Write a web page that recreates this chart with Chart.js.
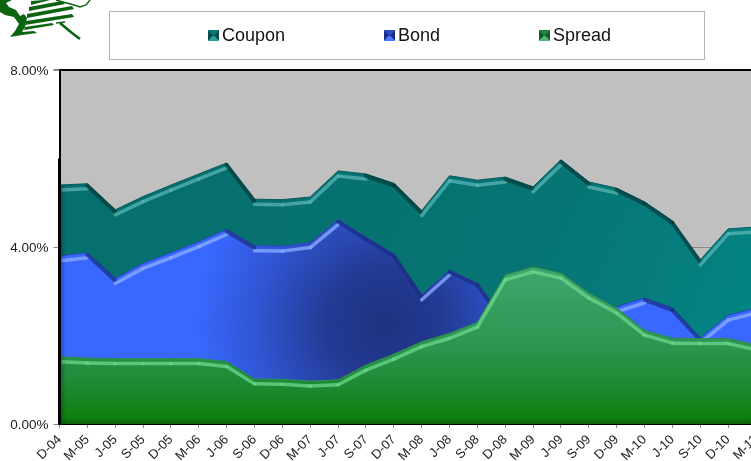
<!DOCTYPE html>
<html>
<head>
<meta charset="utf-8">
<script src="https://cdn.jsdelivr.net/npm/chart.js@4"></script>
<style>
    html, body { margin: 0; padding: 0; background: #fff; overflow: hidden; width: 751px; height: 461px; }
    #wrap { position: relative; width: 751px; height: 461px; overflow: hidden; font-family: "Liberation Sans", sans-serif; }
    #chart { position: absolute; left: 0; top: 0; }
    #logo { position: absolute; left: 0; top: 0; }
    #legend { position: absolute; left: 109px; top: 11px; width: 594px; height: 47px; border: 1px solid #b4b4b4; }
    .item { position: absolute; top: 12px; font-size: 18px; line-height: 22px; color: #111; white-space: nowrap; }
    .swatch { display: inline-block; width: 11px; height: 11px; margin-right: 3px; }
</style>
</head>
<body>
<div id="wrap">
    <canvas id="chart" width="800" height="461"></canvas>
    <svg id="logo" width="105" height="48" viewBox="0 0 105 48">
        <path fill="#0b6410" d="M0 0 L12 0 L6 3 L9 7 L16 10 L20 16 L24 14 L27 18 L25 27 L22 32 L34 31 L37 33 L22 35 L10 37 L15 31 L19 24 L14 17 L5 15 L0 12 Z"/>
        <path fill="#0b6410" d="M31 1 L44 0 L50 0 L31 5 Z M29 7 L62 1 L65 4 L29 11 Z M27 14 L72 6 L74 9 L27 18 Z M26 21 L72 14 L74 17 L25 25 Z M25 27 L52 23 L54 25 L24 30 Z"/>
        <path fill="none" stroke="#0b6410" stroke-width="1.4" d="M56 0 L74 5 L80 7 L86 5 L90 0"/>
        <path fill="none" stroke="#0b6410" stroke-width="2.6" d="M60 23 L72 33 L80 39"/>
        <path fill="none" stroke="#0b6410" stroke-width="1.4" d="M56 23 L65 22"/>
    </svg>
    <div id="legend"></div>
</div>
<script>
// Chart data
const categories = ['D-04','M-05','J-05','S-05','D-05','M-06','J-06','S-06','D-06','M-07','J-07','S-07','D-07',
    'M-08','J-08','S-08','D-08','M-09','J-09','S-09','D-09','M-10','J-10','S-10','D-10','M-11'];
const couponValues = [5.40,5.43,4.84,5.14,5.40,5.65,5.90,5.08,5.07,5.13,5.72,5.65,5.44,
    4.82,5.61,5.51,5.58,5.36,5.97,5.47,5.33,5.02,4.59,3.71,4.41,4.45];
const bondValues = [3.80,3.87,3.29,3.63,3.87,4.12,4.40,4.03,4.02,4.10,4.62,4.22,3.84,
    2.92,3.48,3.18,2.30,2.20,2.30,2.45,2.65,2.85,2.62,1.94,2.46,2.62];
const spreadValues = [1.52,1.49,1.48,1.48,1.48,1.48,1.41,1.02,1.01,0.97,1.00,1.33,1.58,
    1.86,2.05,2.30,3.37,3.55,3.41,2.96,2.62,2.12,1.94,1.93,1.93,1.79];
const yTicks = [0, 4, 8];

// Gradient fills for the three areas
function couponFill(context) {
    const g = context.chart.ctx.createLinearGradient(200, 180, 720, 400);
    g.addColorStop(0, '#06706e');
    g.addColorStop(0.6, '#067573');
    g.addColorStop(1, '#048484');
    return g;
}
function bondFill(context) {
    const g = context.chart.ctx.createRadialGradient(385, 325, 5, 385, 325, 210);
    g.addColorStop(0, '#1f3382');
    g.addColorStop(0.25, '#233a92');
    g.addColorStop(0.6, '#3055d2');
    g.addColorStop(0.9, '#3868ff');
    return g;
}
function spreadFill(context) {
    const g = context.chart.ctx.createLinearGradient(0, 268, 0, 424);
    g.addColorStop(0, '#3fa76e');
    g.addColorStop(0.5, '#2c9650');
    g.addColorStop(0.75, '#1c8a32');
    g.addColorStop(0.96, '#0d800f');
    g.addColorStop(1, '#0a600c');
    return g;
}

// Bevel colours per series; segments steeper than "steep" get the dark band
const bevels = [
    { light: 'rgba(90,180,180,0.75)', dark: 'rgba(3,60,60,0.7)', steep: 0.3 },
    { light: 'rgba(135,170,255,0.8)', dark: 'rgba(25,45,130,0.7)', steep: 0.3 },
    { light: 'rgba(110,215,140,0.75)', dark: 'rgba(30,120,60,0.7)', steep: 9 }
];

// Plot background and thick left axis part
const plotFrame = {
    id: 'plotFrame',
    beforeDraw(chart) {
        const { ctx, chartArea: a } = chart;
        ctx.save();
        ctx.fillStyle = '#c0c0c0';
        ctx.fillRect(a.left, a.top, a.right - a.left, a.bottom - a.top);
        ctx.restore();
    },
    afterDatasetsDraw(chart) {
        const { ctx, chartArea: a } = chart;
        const top = chart.getDatasetMeta(0).data[0].y;
        const g = ctx.createLinearGradient(a.left, 0, a.left + 7, 0);
        g.addColorStop(0, 'rgba(0,0,0,0.28)');
        g.addColorStop(1, 'rgba(0,0,0,0)');
        ctx.save();
        ctx.fillStyle = g;
        ctx.fillRect(a.left, top, 7, a.bottom - top);
        ctx.restore();
    },
    afterDraw(chart) {
        const { ctx, chartArea: a } = chart;
        ctx.save();
        ctx.strokeStyle = '#000';
        ctx.lineWidth = 3;
        ctx.beginPath();
        ctx.moveTo(a.left, chart.scales.y.getPixelForValue(6));
        ctx.lineTo(a.left, a.bottom + 1);
        ctx.stroke();
        ctx.restore();
    }
};

// Bevel strip under each area's top edge, following the drawn points
const bevel = {
    id: 'bevel',
    afterDatasetDraw(chart, args) {
        const { ctx, chartArea: a } = chart;
        const pts = chart.getDatasetMeta(args.index).data;
        const style = bevels[args.index];
        ctx.save();
        ctx.beginPath();
        ctx.rect(a.left + 2, a.top, a.right - a.left, a.bottom - a.top);
        ctx.clip();
        ctx.lineCap = 'round';
        for (let i = 0; i < pts.length - 1; i++) {
            const p = pts[i], q = pts[i + 1];
            const falling = (q.y - p.y) / (q.x - p.x) > style.steep;
            ctx.beginPath();
            if (falling) {
                ctx.strokeStyle = style.dark;
                ctx.lineWidth = 4;
                ctx.moveTo(p.x, p.y + 2);
                ctx.lineTo(q.x, q.y + 2);
            } else {
                ctx.strokeStyle = style.light;
                ctx.lineWidth = 3.5;
                ctx.moveTo(p.x, p.y + 5);
                ctx.lineTo(q.x, q.y + 5);
            }
            ctx.stroke();
        }
        ctx.restore();
    }
};

new Chart(document.getElementById('chart'), {
    type: 'line',
    data: {
        labels: categories,
        datasets: [
            { label: 'Coupon', data: couponValues, fill: 'origin', order: 3, backgroundColor: couponFill, borderColor: '#055a5a', borderWidth: 1, pointRadius: 0, tension: 0 },
            { label: 'Bond', data: bondValues, fill: 'origin', order: 2, backgroundColor: bondFill, borderColor: '#2a48b8', borderWidth: 1, pointRadius: 0, tension: 0 },
            { label: 'Spread', data: spreadValues, fill: 'origin', order: 1, backgroundColor: spreadFill, borderColor: '#2f8a50', borderWidth: 1, pointRadius: 0, tension: 0 }
        ]
    },
    options: {
        responsive: false,
        animation: false,
        layout: { padding: { top: 70, right: 44, left: 0, bottom: 0 } },
        plugins: { legend: { display: false }, tooltip: { enabled: false } },
        scales: {
            x: {
                offset: false,
                afterFit(scale) { scale.height = 37; },
                border: { color: '#000', width: 2 },
                grid: { drawOnChartArea: false, tickLength: 4, tickColor: '#8a8a8a' },
                ticks: { autoSkip: false, minRotation: 45, maxRotation: 45, padding: 4, color: '#222', font: { family: 'Liberation Sans', size: 13 } }
            },
            y: {
                min: 0,
                max: 8,
                afterFit(scale) { scale.width = 59.5; },
                afterBuildTicks(scale) { scale.ticks = yTicks.map(v => ({ value: v })); },
                border: { color: '#000', width: 2 },
                grid: { color: ctx => ctx.tick.value === 8 ? '#000' : '#8a8a8a', lineWidth: ctx => ctx.tick.value === 8 ? 2 : 1, tickLength: 6, tickColor: '#8a8a8a' },
                ticks: { padding: 5, labelOffset: 1, color: '#222', font: { family: 'Liberation Sans', size: 13.5 }, callback: v => v.toFixed(2) + '%' }
            }
        }
    },
    plugins: [plotFrame, bevel]
});

// Legend box, swatches shaded like small bevelled squares
const legendItems = [
    { name: 'Coupon', left: 98, dark: '#0a4a4a', mid: '#0a7876', light: '#2aa09e' },
    { name: 'Bond', left: 274, dark: '#1a2f85', mid: '#2a4cc0', light: '#4a78ff' },
    { name: 'Spread', left: 429, dark: '#145c2c', mid: '#1f8040', light: '#4ab870' }
];
document.getElementById('legend').innerHTML = legendItems.map(item => `
    <span class="item" style="left:${item.left}px"><span class="swatch" style="background:conic-gradient(${item.mid} 0 45deg, ${item.dark} 45deg 135deg, ${item.light} 135deg 225deg, ${item.dark} 225deg 315deg, ${item.mid} 315deg)"></span>${item.name}</span>
`).join('');
</script>
</body>
</html>
